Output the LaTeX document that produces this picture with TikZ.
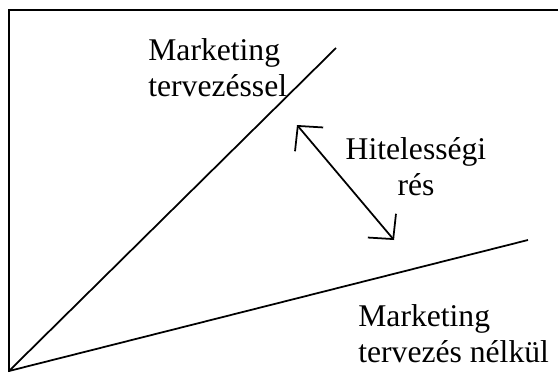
\documentclass[tikz,border=0pt]{standalone}
\usepackage{fontspec}
\setmainfont{Liberation Serif}
\usepackage{tikz}
\usetikzlibrary{calc}
\usetikzlibrary{arrows.meta,positioning}

\tikzset{
	frameline/.style={line width=1.2pt},
	growline/.style={line width=1pt},
	gaparrow/.style={line width=1pt,{Straight Barb[length=10pt,width=21pt]}-{Straight Barb[length=10pt,width=21pt]}},
	labeltext/.style={inner sep=0pt,align=left,font=\fontsize{18}{20.5}\selectfont}
}

\begin{document}
\begin{tikzpicture}[x=0.02cm,y=-0.02cm]
		\useasboundingbox (0,0) rectangle (558,372);
		% frame
		\coordinate (frameBot) at (9,372);
		\coordinate (frameCorner) at (9,10);
		\coordinate (frameRight) at (560,10);
		\draw[frameline] (frameBot)--(frameCorner)--(frameRight);
		% the two lines
		\coordinate (origin) at (9,371);
		\coordinate (withEnd) at (336,48);
		\coordinate (withoutEnd) at (528,240);
		\draw[growline] (origin)--(withEnd);
		\draw[growline] (origin)--(withoutEnd);
			\node[labeltext,anchor=north west] (withLabel) at (148,38) {Marketing\\tervezéssel};
			\node[labeltext,anchor=north west] (withoutLabel) at (358,304) {Marketing\\tervezés nélkül};
		% gap
		\coordinate (gapTop) at (297,125);
		\coordinate (gapBot) at (394,240);
		\draw[gaparrow] (gapTop)--(gapBot);
			\node[labeltext,align=center,anchor=north] (gapLabel) at (416,137) {Hitelességi\\rés};
	\end{tikzpicture}
\end{document}
